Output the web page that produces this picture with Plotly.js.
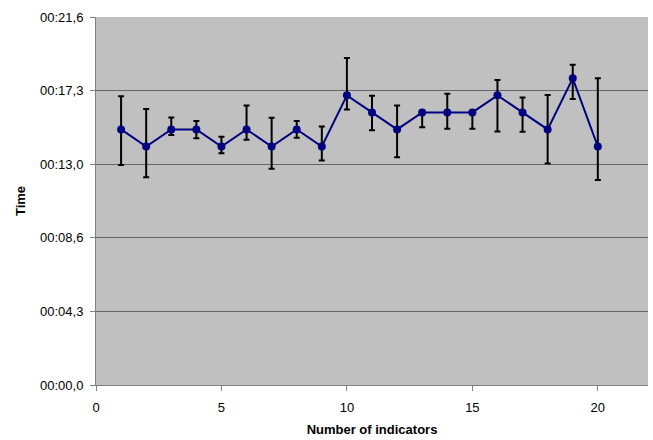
<!DOCTYPE html>
<html>
<head>
<meta charset="utf-8">
<script src="https://cdn.plot.ly/plotly-3.0.1.min.js"></script>
<style>html,body{margin:0;padding:0;background:#fff;}#chart{width:653px;height:440px;}</style>
</head>
<body>
<div id="chart"></div>
<script>
// Number of indicators
var indicators = [1,2,3,4,5,6,7,8,9,10,11,12,13,14,15,16,17,18,19,20];
// Time in seconds
var timeSeconds = [15,14,15,15,14,15,14,15,14,17,16,15,16,16,16,17,16,15,18,14];
var errorPlus  = [1.95,2.2,0.7,0.5,0.57,1.41,1.69,0.49,1.18,2.2,0.98,1.41,0.1,1.1,0.1,0.9,0.88,2.02,0.79,4.0];
var errorMinus = [2.08,1.81,0.33,0.52,0.39,0.61,1.31,0.49,0.82,0.83,1.04,1.63,0.87,0.96,0.96,2.12,1.14,2.0,1.22,1.97];
// Y tick values (seconds) and labels
var yTickVals = [0,4.32,8.64,12.96,17.28,21.6];
var yTickText = ["00:00,0","00:04,3","00:08,6","00:13,0","00:17,3","00:21,6"];
var xTickVals = [0,5,10,15,20];

var trace = {
  x: indicators,
  y: timeSeconds,
  type: 'scatter',
  mode: 'lines+markers',
  line: {color: '#000080', width: 2},
  marker: {color: '#000080', size: 8},
  error_y: {
    type: 'data', symmetric: false,
    array: errorPlus, arrayminus: errorMinus,
    color: '#000000', thickness: 2, width: 3
  },
  hoverinfo: 'none'
};

var layout = {
  width: 653, height: 440,
  margin: {l: 96, r: 5, t: 17, b: 55},
  paper_bgcolor: '#ffffff',
  plot_bgcolor: '#c0c0c0',
  showlegend: false,
  font: {family: 'Liberation Sans, Arial, sans-serif', size: 13, color: '#000'},
  xaxis: {
    range: [0, 22],
    tickvals: xTickVals,
    ticks: 'outside', ticklen: 5, tickcolor: '#808080',
    showline: true, linecolor: '#808080', linewidth: 1,
    showgrid: false, zeroline: false,
    ticklabelstandoff: 5,
    tickfont: {size: 13, color: '#000'},
    title: {text: 'Number of indicators', font: {size: 13, color: '#000', weight: 'bold'}, standoff: 11}
  },
  yaxis: {
    range: [0, 21.6],
    tickvals: yTickVals, ticktext: yTickText,
    ticks: 'outside', ticklen: 5, tickcolor: '#808080',
    showline: true, linecolor: '#808080', linewidth: 1,
    showgrid: true, gridcolor: '#666666', gridwidth: 1,
    zeroline: false,
    ticklabelstandoff: 4,
    tickfont: {size: 13, color: '#000'},
    title: {text: 'Time', font: {size: 13, color: '#000', weight: 'bold'}, standoff: 11}
  }
};

Plotly.newPlot('chart', [trace], layout, {displayModeBar: false, staticPlot: true});
</script>
</body>
</html>
